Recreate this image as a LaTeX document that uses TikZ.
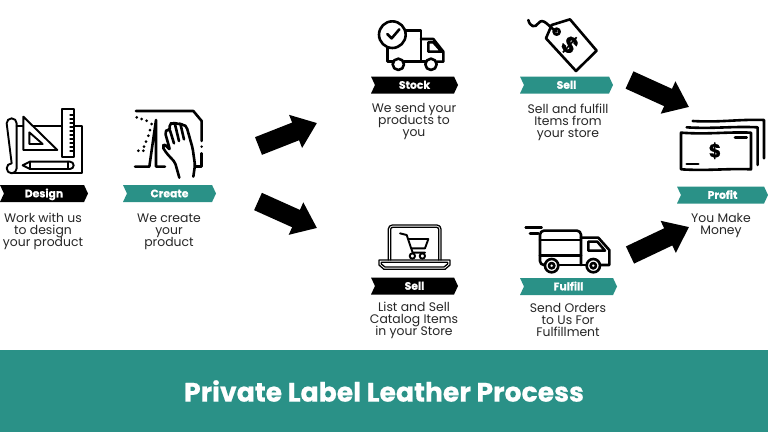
\documentclass[tikz,border=0pt]{standalone}
\usepackage{fontspec}
\setmainfont{Poppins}[BoldFeatures={FakeBold=0.5}]
\usetikzlibrary{shapes.symbols,arrows.meta}
\definecolor{tealband}{HTML}{2A9187}
\lineskiplimit=-10pt
\tikzset{
  ribbon/.style={signal,signal to=east,signal from=west,signal pointer angle=130,
    minimum height=17pt,inner sep=0pt,outer sep=0pt,text height=7.5pt,text depth=0pt,
    font=\fontsize{10.8}{10.8}\selectfont\bfseries,text=white},
  ribbonblack/.style={ribbon,fill=black},
  ribbonteal/.style={ribbon,fill=tealband},
  caption/.style={align=center,font=\fontsize{12.4}{12}\selectfont,text=black!85,inner sep=0pt},
  bigarrow/.style={line width=19pt,-{Triangle[length=23pt,width=34pt]},black},
  icon/.style={line width=2.6pt,black,line join=round,line cap=round},
}
\begin{document}
\begin{tikzpicture}[x=1pt,y=-1pt]
  \useasboundingbox (0,0) rectangle (768,432);
  \fill[white] (0,0) rectangle (768,432);
  \fill[tealband] (0,350) rectangle (768,432);
  \node[font=\fontsize{26.7}{26.7}\selectfont\bfseries,text=white] (title) at (384,391) {Private Label Leather Process};

  % ribbons
  \node[ribbonblack,minimum width=88pt] (design) at (44,193.5) {Design};
  \node[ribbonteal,minimum width=93pt] (create) at (169.5,193.5) {Create};
  \node[ribbonblack,minimum width=87pt] (stock) at (414.5,85) {Stock};
  \node[ribbonteal,minimum width=93pt] (sellup) at (566.5,85) {Sell};
  \node[ribbonblack,minimum width=87pt] (selldown) at (414.5,286) {Sell};
  \node[ribbonteal,minimum width=97pt] (fulfill) at (568.5,286.5) {Fulfill};
  \node[ribbonteal,minimum width=91pt] (profit) at (722.5,195) {Profit};

  % captions
  \node[caption] (designtxt) at (43,231) {Work with us\\to design\\your product};
  \node[caption] (createtxt) at (169,232) {We create\\your\\product};
  \node[caption] (stocktxt) at (414,122) {We send your\\products to\\you};
  \node[caption] (selluptxt) at (568,122) {Sell and fulfill\\Items from\\your store};
  \node[caption] (selldowntxt) at (414,320.5) {List and Sell\\Catalog Items\\in your Store};
  \node[caption] (fulfilltxt) at (568,319.5) {Send Orders\\to Us For\\Fulfillment};
  \node[caption] (profittxt) at (721,226) {You Make\\Money};

  % big arrows
  \coordinate (a1s) at (258.5,146); \coordinate (a1e) at (317,123);
  \coordinate (a2s) at (258,201.5); \coordinate (a2e) at (317,228);
  \coordinate (a3s) at (629.5,80);  \coordinate (a3e) at (689,107);
  \coordinate (a4s) at (630,255);   \coordinate (a4e) at (689,227);
  \draw[bigarrow] (a1s) -- (a1e);
  \draw[bigarrow] (a2s) -- (a2e);
  \draw[bigarrow] (a3s) -- (a3e);
  \draw[bigarrow] (a4s) -- (a4e);

  % blueprint
  \begin{scope}[x=0.3333pt,y=-0.3333pt,yshift=-105pt,icon,line width=1.9pt]
    \draw (50,63) -- (245,63) -- (245,205) -- (35,205);
    \draw (20,55) arc (180:360:15) -- (50,190) arc (0:90:15) arc (90:270:15) -- (20,55);
    \draw[fill=white] (70,35) -- (172,135) -- (70,135) -- cycle;
    \draw (88,82) -- (128,117) -- (88,117) -- cycle;
    \draw[fill=white] (185,13) rectangle (222,157);
    \foreach \y in {30,42,54,66,78,90,102,114,126,138}
      \draw[line width=1.3pt] (210,\y) -- (222,\y);
    \draw (90,170) -- (210,170) arc (-90:90:11) -- (90,192) -- (68,181) -- cycle;
    \draw (90,170) -- (90,192);
    \draw (205,170) -- (205,192);
  \end{scope}

  % hand on paper
  \begin{scope}[x=0.3333pt,y=-0.3333pt,xshift=130pt,yshift=-105pt,icon]
    \draw (18,18) -- (190,18) -- (215,48) -- (215,108);
    \draw (215,145) -- (215,185) -- (197,185);
    \fill (215,125) circle (1.4pt);
    \draw (15,185) -- (58,185) -- (78,45) -- (78,185) -- (105,185);
    \foreach \px/\py in {20/37,35/42,50/47,65/57,60/75,55/92,48/110,42/125,40/137,25/137}
      \fill (\px,\py) circle (1.5pt);
    \draw[fill=white,rounded corners=2pt] (148,218) -- (135,172) -- (110,145) -- (97,125) -- (103,117) -- (120,135)
      -- (105,82) -- (112,72) -- (120,76) -- (118,58) -- (128,52) -- (135,58) -- (145,53) -- (152,60) -- (162,58)
      -- (170,66) -- (188,130) -- (195,180) -- (190,215);
    \draw (120,76) -- (132,115);
    \draw (135,58) -- (147,108);
    \draw (152,60) -- (162,103);
  \end{scope}

  % stock truck
  \begin{scope}[x=0.3333pt,y=-0.3333pt,xshift=360pt,yshift=-10pt,icon]
    \draw (137,62) -- (183,62) -- (183,155) -- (132,155);
    \draw (82,113) -- (82,155) -- (98,155);
    \draw (183,87) -- (220,87) -- (250,125) -- (250,155) -- (230,155);
    \draw (183,155) -- (196,155);
    \draw (205,97) -- (220,97) -- (245,125) -- (205,125) -- cycle;
    \draw (97,74) circle (40);
    \draw (82,72) -- (95,85) -- (118,58);
    \draw (115,163) circle (17);
    \draw (213,163) circle (17);
  \end{scope}

  % price tag
  \begin{scope}[x=0.3333pt,y=-0.3333pt,xshift=360pt,yshift=-10pt,icon]
    \draw (575,45) -- (630,28) -- (710,122) -- (648,183) -- (558,85) -- cycle;
    \draw (590,65) circle (9);
    \draw (590,65) .. controls (565,50) and (550,20) .. (535,40) .. controls (525,55) and (510,50) .. (505,30);
    \node[rotate=-42,font=\fontsize{23}{23}\selectfont\bfseries,inner sep=0pt] (dollartag) at (630,105) {\$};
  \end{scope}

  % laptop with cart
  \begin{scope}[x=0.3333pt,y=-0.3333pt,xshift=360pt,yshift=-215pt,icon,line width=1.3pt]
    \draw[rounded corners=4pt] (85,135) -- (85,30) -- (243,30) -- (243,135);
    \draw[rounded corners=2pt] (92,135) -- (92,37) -- (236,37) -- (236,135);
    \draw (57,135) -- (270,135) -- (270,150) -- (255,163) -- (72,163) -- (57,150) -- cycle;
    \draw (64,142) -- (263,142) -- (263,147) -- (252,156) -- (75,156) -- (64,147) -- cycle;
    \draw[line width=1.9pt] (120,55) -- (140,60) -- (158,113) -- (195,113);
    \draw[line width=1.9pt] (145,72) -- (205,72) -- (195,100) -- (155,100);
    \draw[line width=1.9pt] (157,123) circle (8);
    \draw[line width=1.9pt] (187,123) circle (8);
  \end{scope}

  % delivery truck
  \begin{scope}[x=0.3333pt,y=-0.3333pt,xshift=360pt,yshift=-215pt,icon]
    \draw (497,37) -- (545,37);
    \draw (510,55) -- (535,55);
    \draw[rounded corners=4pt] (553,150) -- (540,150) -- (540,47) -- (663,47) -- (663,150);
    \draw (595,150) -- (680,150);
    \draw (540,75) -- (663,75);
    \draw (540,122) -- (663,122);
    \draw (663,68) -- (715,68) -- (748,105) -- (748,150) -- (722,150);
    \draw (685,80) -- (712,80) -- (735,107) -- (685,107) -- cycle;
    \foreach \cx in {575,700} {
      \draw (\cx,152) circle (20);
      \draw (\cx,152) circle (8);
    }
  \end{scope}

  % banknotes
  \begin{scope}[x=0.3333pt,y=-0.3333pt,xshift=620pt,yshift=-65pt,icon]
    \draw (183,203) .. controls (265,209) and (320,200) .. (393,203) -- (393,313)
      .. controls (320,310) and (265,318) .. (183,313) -- cycle;
    \draw (200,187) .. controls (280,192) and (340,183) .. (413,187) -- (413,300);
    \draw (218,168) .. controls (300,173) and (360,162) .. (432,165) -- (432,280);
    \draw (345,218) -- (380,218);
    \draw (200,297) -- (235,297);
    \node[font=\fontsize{19}{19}\selectfont\bfseries,inner sep=0pt] (dollarbill) at (285,257) {\$};
  \end{scope}
\end{tikzpicture}
\end{document}
